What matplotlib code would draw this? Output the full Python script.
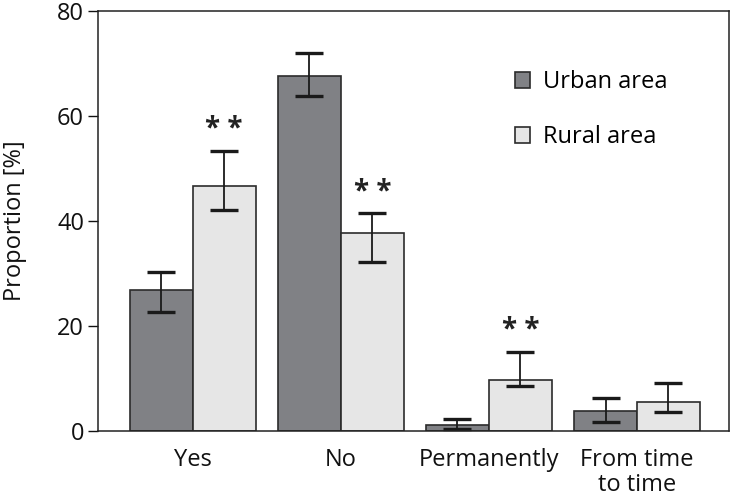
import numpy as np
import matplotlib.pyplot as plt
from matplotlib.patches import Rectangle

plt.rcParams['font.family'] = ['Open Sans', 'DejaVu Sans']

# values
categories = ['Yes', 'No', 'Permanently', 'From time\nto time']
urban = [26.9, 67.6, 1.1, 3.8]
urban_hi = [30.3, 72.0, 2.2, 6.3]
urban_lo = [22.7, 63.8, 0.4, 1.8]
rural = [46.6, 37.8, 9.8, 5.5]
rural_hi = [53.4, 41.5, 15.1, 9.2]
rural_lo = [42.1, 32.1, 8.6, 3.6]
stars = ['* *', '* *', '* *', '']

urban_col = '#808185'
rural_col = '#e6e6e6'
edge = '#2b2b2b'
fs = 17

fig = plt.figure(figsize=(7.31, 5.0), dpi=100)
ax = fig.add_axes([0.134, 0.138, 0.863, 0.840])

x = np.arange(len(categories))
w = 0.425

def errs(v, lo, hi):
    return [np.array(v) - np.array(lo), np.array(hi) - np.array(v)]

ekw = dict(ecolor='#1a1a1a', elinewidth=1.3, capsize=10, capthick=2.4)
ax.bar(x - w / 2, urban, w, color=urban_col, edgecolor=edge, linewidth=1.2,
       yerr=errs(urban, urban_lo, urban_hi), error_kw=ekw, label='Urban area')
ax.bar(x + w / 2, rural, w, color=rural_col, edgecolor=edge, linewidth=1.2,
       yerr=errs(rural, rural_lo, rural_hi), error_kw=ekw, label='Rural area')

for i, s in enumerate(stars):
    if s:
        ax.text(x[i] + w / 2, rural_hi[i] + 4.0, s, ha='center', va='center',
                fontsize=20, color='#222222', fontweight='bold')

ax.set_xlim(-0.64, 3.62)
ax.set_ylim(0, 80)
ax.set_yticks([0, 20, 40, 60, 80])
ax.set_xticks(x)
ax.set_xticklabels(categories, fontsize=fs, color='#111111', linespacing=1.1)
ax.tick_params(axis='y', length=7, width=1.0, labelsize=fs, colors='#111111', pad=3)
ax.tick_params(axis='x', length=0, pad=12)
for sp in ax.spines.values():
    sp.set_linewidth(1.1)
    sp.set_color('#222222')
ax.set_ylabel('Proportion [%]', fontsize=fs, color='#111111')
ax.yaxis.set_label_coords(-0.112, 0.5)

handles = [Rectangle((0, 0), 1, 1, facecolor=urban_col, edgecolor=edge, linewidth=1.2),
           Rectangle((0, 0), 1, 1, facecolor=rural_col, edgecolor=edge, linewidth=1.2)]
ax.legend(handles, ['Urban area', 'Rural area'], loc='upper left',
          bbox_to_anchor=(0.627, 0.909), frameon=False, fontsize=fs,
          handlelength=0.65, handleheight=0.65, handletextpad=0.55,
          labelspacing=1.3)

fig.savefig('out.png', dpi=100)
